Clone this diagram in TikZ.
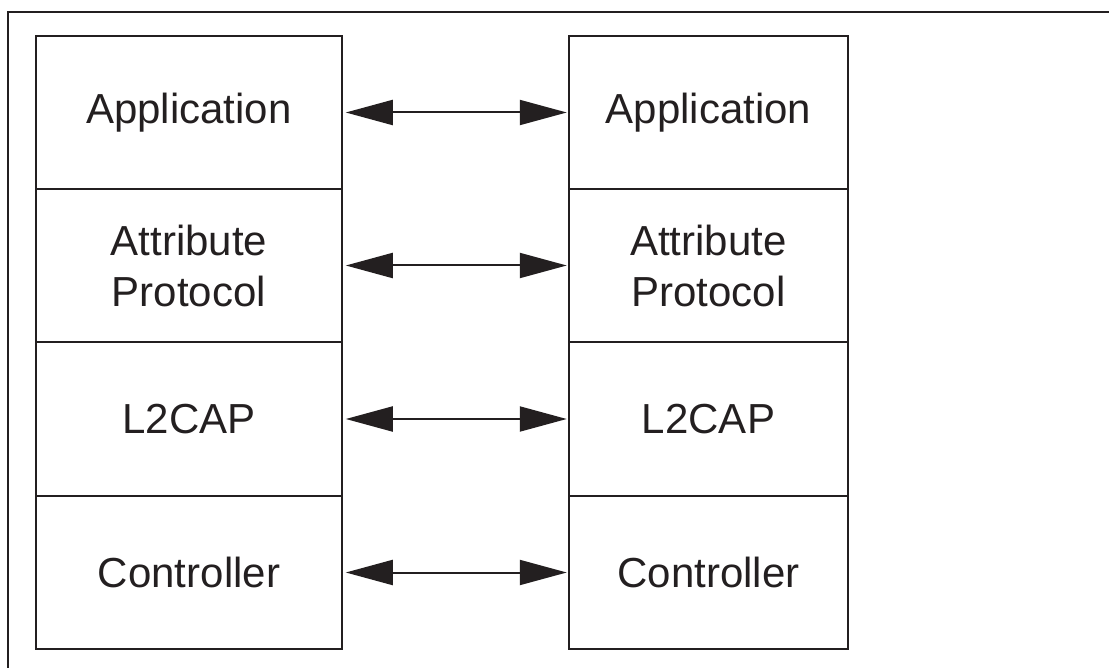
\documentclass[tikz,border=0pt]{standalone}
\usepackage{fontspec}
\setmainfont{Liberation Sans}
\usetikzlibrary{arrows.meta}
\definecolor{ink}{HTML}{231F20}
\begin{document}
\begin{tikzpicture}[x=1pt,y=1pt,
  layer/.style={draw=ink, line width=1.5pt, text=ink, inner sep=0pt, align=center,
    minimum height=153pt, font=\fontsize{42}{51}\selectfont},
  leftlayer/.style={layer, minimum width=306pt},
  rightlayer/.style={layer, minimum width=279pt},
  link/.style={draw=ink, line width=2pt, {Triangle[length=47pt,width=25pt]}-{Triangle[length=47pt,width=25pt]},
    shorten <=3pt, shorten >=1.5pt}
]
\useasboundingbox (0,0) rectangle (1109,-668);
\draw[ink, line width=2.2pt] (8,-668) -- (8,-12) -- (1109,-12);

\node[leftlayer] (la) at (189,-112.5) {Application};
\node[leftlayer] (lb) at (189,-265.5) {Attribute\\Protocol};
\node[leftlayer] (lc) at (189,-419) {L2CAP};
\node[leftlayer] (ld) at (189,-572.5) {Controller};

\node[rightlayer] (ra) at (708.5,-112.5) {Application};
\node[rightlayer] (rb) at (708.5,-265.5) {Attribute\\Protocol};
\node[rightlayer] (rc) at (708.5,-419) {L2CAP};
\node[rightlayer] (rd) at (708.5,-572.5) {Controller};

\draw[link] (la.east) -- (ra.west);
\draw[link] (lb.east) -- (rb.west);
\draw[link] (lc.east) -- (rc.west);
\draw[link] (ld.east) -- (rd.west);
\end{tikzpicture}
\end{document}
